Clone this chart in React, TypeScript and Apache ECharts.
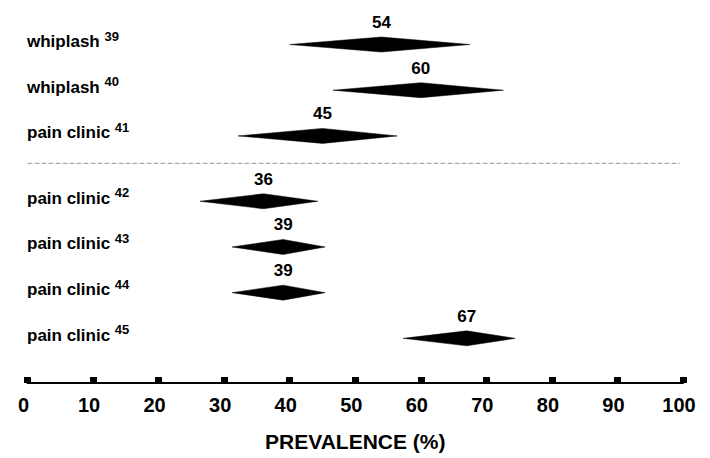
import React, { useEffect, useRef } from "react";
import * as echarts from "echarts";

// ---- data ----
const studyLabels = [
  "whiplash",
  "whiplash",
  "pain clinic",
  "pain clinic",
  "pain clinic",
  "pain clinic",
  "pain clinic",
];
const references = ["39", "40", "41", "42", "43", "44", "45"];
const prevalence = [54, 60, 45, 36, 39, 39, 67];
const lowerCI = [40, 46.6, 32.1, 26.3, 31.2, 31.2, 57.3];
const upperCI = [67.5, 72.6, 56.4, 44.3, 45.4, 45.4, 74.4];
const studyGroup = [0, 0, 0, 1, 1, 1, 1];
const xTickMin = 0;
const xTickMax = 100;
const xTickStep = 10;

const GROUP_GAP = 0.43;
const SEPARATOR_Y = 2.6;
const FONT = "'Liberation Sans', Arial, Helvetica, sans-serif";

export default function App() {
  const ref = useRef<HTMLDivElement>(null);

  useEffect(() => {
    if (!ref.current) return;
    const chart = echarts.init(ref.current, undefined, { renderer: "svg" });

    const rows = prevalence.map((v, i) => [
      lowerCI[i],
      v,
      upperCI[i],
      i + studyGroup[i] * GROUP_GAP,
      i,
    ]);

    const option: any = {
      animation: false,
      backgroundColor: "#fff",
      grid: { left: 27.5, right: 27, top: 0, bottom: 75, containLabel: false },
      xAxis: {
        type: "value",
        min: xTickMin,
        max: xTickMax,
        interval: xTickStep,
        axisLine: { show: true, onZero: false, lineStyle: { color: "#000", width: 2 } },
        axisTick: { show: true, inside: true, length: 6, lineStyle: { color: "#000", width: 7 } },
        splitLine: { show: false },
        axisLabel: {
          color: "#000",
          fontSize: 20,
          fontWeight: "bold",
          fontFamily: FONT,
          margin: 12,
          padding: [0, 8, 0, 0],
        },
        name: "PREVALENCE (%)",
        nameLocation: "middle",
        nameGap: 48,
        nameTextStyle: { color: "#000", fontSize: 21, fontWeight: "bold", fontFamily: FONT },
      },
      yAxis: {
        type: "value",
        inverse: true,
        min: -0.974,
        max: 7.407,
        show: false,
        splitLine: { show: false },
      },
      series: [
        {
          type: "custom",
          silent: true,
          data: [[0, SEPARATOR_Y, 100]],
          encode: { x: [0, 2], y: 1 },
          renderItem: (params: any, api: any) => {
            const y = api.value(1);
            const a = api.coord([api.value(0), y]);
            const b = api.coord([api.value(2), y]);
            return {
              type: "line",
              shape: { x1: a[0], y1: a[1], x2: b[0] - 3, y2: b[1] },
              style: { stroke: "#9a9a9a", lineWidth: 1, lineDash: [5, 2] },
            };
          },
        },
        {
          type: "custom",
          silent: true,
          data: rows,
          encode: { x: [0, 1, 2], y: 3 },
          renderItem: (params: any, api: any) => {
            const lo = api.value(0);
            const c = api.value(1);
            const hi = api.value(2);
            const y = api.value(3);
            const idx = api.value(4);
            const pL = api.coord([lo, y]);
            const pC = api.coord([c, y]);
            const pR = api.coord([hi, y]);
            const p0 = api.coord([0, y]);
            const half = 7.5;
            return {
              type: "group",
              children: [
                {
                  type: "polygon",
                  shape: {
                    points: [
                      [pL[0], pC[1]],
                      [pC[0], pC[1] - half],
                      [pR[0], pC[1]],
                      [pC[0], pC[1] + half],
                    ],
                  },
                  style: { fill: "#000", stroke: "#000", lineWidth: 0.5 },
                },
                {
                  type: "text",
                  x: pC[0],
                  y: pC[1] - 22,
                  style: {
                    text: String(c),
                    fill: "#000",
                    fontSize: 17,
                    fontWeight: "bold",
                    fontFamily: FONT,
                    align: "center",
                    verticalAlign: "middle",
                  },
                },
                {
                  type: "text",
                  x: p0[0] - 0.5,
                  y: pC[1] - 3,
                  style: {
                    text: `{m|${studyLabels[idx]} }{s|${references[idx]}}`,
                    fill: "#000",
                    fontSize: 17,
                    fontWeight: "bold",
                    fontFamily: FONT,
                    align: "left",
                    verticalAlign: "middle",
                    rich: {
                      m: {
                        fontSize: 17,
                        fontWeight: "bold",
                        fontFamily: FONT,
                        fill: "#000",
                        lineHeight: 24,
                      },
                      s: {
                        fontSize: 13,
                        fontWeight: "bold",
                        fontFamily: FONT,
                        fill: "#000",
                        lineHeight: 13,
                        verticalAlign: "top",
                      },
                    },
                  },
                },
              ],
            };
          },
        },
      ],
    };

    chart.setOption(option);
    return () => chart.dispose();
  }, []);

  return (
    <div
      ref={ref}
      style={{ position: "fixed", left: 0, top: 0, width: 710, height: 458, background: "#fff" }}
    />
  );
}
